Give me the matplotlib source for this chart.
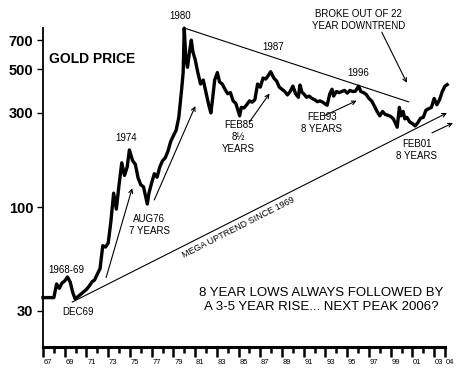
import matplotlib
matplotlib.use("Agg")
import matplotlib.pyplot as plt
from matplotlib.ticker import NullLocator
from matplotlib.transforms import ScaledTranslation

plt.rcParams['font.family'] = ['Liberation Sans', 'DejaVu Sans']

# gold price (decimal year, US$/oz)
years = [1967.0, 1967.25, 1967.5, 1967.75,
         1968.0, 1968.25, 1968.5, 1968.75,
         1969.0, 1969.25, 1969.5, 1969.75, 1969.95,
         1970.25, 1970.5, 1970.75,
         1971.0, 1971.25, 1971.5, 1971.75,
         1972.0, 1972.25, 1972.5, 1972.75,
         1973.0, 1973.25, 1973.5, 1973.75,
         1974.0, 1974.25, 1974.5, 1974.75, 1974.95,
         1975.25, 1975.5, 1975.75,
         1976.0, 1976.25, 1976.6, 1976.75,
         1977.0, 1977.25, 1977.5, 1977.75,
         1978.0, 1978.25, 1978.5, 1978.75,
         1979.0, 1979.25, 1979.5, 1979.75, 1979.9,
         1980.0, 1980.15, 1980.3, 1980.5, 1980.65, 1980.8,
         1981.0, 1981.25, 1981.5, 1981.75,
         1982.0, 1982.25, 1982.45, 1982.6, 1982.8,
         1983.05, 1983.25, 1983.5, 1983.75,
         1984.0, 1984.25, 1984.5, 1984.75,
         1985.1, 1985.25, 1985.5, 1985.75,
         1986.0, 1986.25, 1986.5, 1986.75,
         1987.0, 1987.25, 1987.5, 1987.75, 1987.95,
         1988.25, 1988.5, 1988.75,
         1989.0, 1989.25, 1989.5, 1989.75,
         1990.0, 1990.25, 1990.5, 1990.65, 1990.85,
         1991.0, 1991.25, 1991.5, 1991.75,
         1992.0, 1992.25, 1992.5, 1992.75,
         1993.0, 1993.15, 1993.4, 1993.6, 1993.75,
         1994.0, 1994.25, 1994.5, 1994.75,
         1995.0, 1995.25, 1995.5, 1995.75,
         1996.05, 1996.25, 1996.5, 1996.75,
         1997.0, 1997.25, 1997.5, 1997.75,
         1998.0, 1998.25, 1998.5, 1998.75,
         1999.0, 1999.25, 1999.6, 1999.8, 1999.95,
         2000.15, 2000.3, 2000.5, 2000.75,
         2001.0, 2001.25, 2001.5, 2001.75,
         2002.0, 2002.25, 2002.5, 2002.75,
         2003.0, 2003.25, 2003.5, 2003.75,
         2004.0, 2004.2]
prices = [35, 35, 35, 35,
          35, 41, 39, 41.5,
          42.5, 44.5, 42, 37, 34.5,
          35.5, 36.5, 37.5,
          38.5, 40, 42, 43,
          46, 49, 64, 63,
          66, 85, 118, 98,
          130, 168, 145, 160, 195,
          172, 165, 141,
          130, 127, 104, 118,
          133, 148, 142, 160,
          172, 178, 192, 215,
          230, 245, 285, 390, 480,
          805, 560, 510, 620, 700, 610,
          560, 480, 420, 440,
          380, 330, 300, 350, 440,
          480, 430, 420, 395,
          375, 380, 345, 335,
          290, 320, 318, 330,
          345, 340, 350, 420,
          405, 450, 445, 465, 485,
          450, 435, 405,
          395, 385, 370, 385,
          410, 375, 360, 415, 380,
          375, 360, 365, 355,
          350, 342, 345, 340,
          332, 328, 375, 395, 365,
          385, 380, 385, 390,
          378, 390, 385, 386,
          410, 385, 380, 372,
          355, 345, 325, 305,
          290, 305, 295, 292,
          288, 280, 254, 320, 290,
          305, 280, 285, 270,
          265, 258, 268, 282,
          285, 310, 315, 320,
          355, 330, 350, 385,
          410, 417]

y_ticks = [30, 100, 300, 500, 700]
major_years = list(range(1967, 2004, 2)) + [2004]
minor_years = list(range(1968, 2003, 2))

# trend lines / arrows: ((x0, y0), (x1, y1), arrowhead)
trend_lines = [
    ((1980.0, 806), (2000.67, 341), False),   # 22 year downtrend
    ((1969.68, 33.2), (2004.18, 300), True),  # mega uptrend
    ((1972.81, 44.2), (1975.21, 125), True),
    ((1977.24, 109), (1981.02, 325), True),
    ((1986.0, 270), (1987.85, 376), True),
    ((1992.92, 291), (1995.87, 346), True),
    ((1998.18, 768), (2000.49, 426), True),
    ((2002.8, 238), (2004.73, 267), True),
]

# labels: (text, x, y)
labels = [
    ("1980", 1979.6, 927),
    ("1987", 1988.2, 646),
    ("BROKE OUT OF 22\nYEAR DOWNTREND", 1996.06, 884),
    ("1996", 1996.0, 477),
    ("1974", 1974.66, 224),
    ("FEB85\n8½\nYEARS", 1985.0, 227),
    ("FEB93\n8 YEARS", 1992.65, 267),
    ("FEB01\n8 YEARS", 2001.4, 195),
    ("AUG76\n7 YEARS", 1976.8, 81.6),
    ("1968-69", 1969.1, 48.3),
    ("DEC69", 1970.2, 29.6),
]

fig = plt.figure(figsize=(4.64, 3.70), dpi=100)
ax = fig.add_axes([43/464, 23/370, 402/464, 319/370])

ax.plot(years, prices, color='black', linewidth=2.4, clip_on=False)

ax.set_yscale('log')
ax.set_ylim(19.7, 806)
ax.set_xlim(1967, 2004)

ax.set_yticks(y_ticks)
ax.set_yticklabels([str(v) for v in y_ticks], fontsize=10.5, fontweight='bold')
ax.yaxis.set_minor_locator(NullLocator())
ax.tick_params(axis='y', direction='out', length=4, width=1, pad=3)

ax.set_xticks(major_years)
ax.set_xticklabels(['%02d' % (y % 100) for y in major_years], fontsize=5.5)
ax.set_xticks(minor_years, minor=True)
ax.tick_params(axis='x', which='major', direction='out', length=7, width=1.8, pad=2)
ax.tick_params(axis='x', which='minor', direction='out', length=4, width=1.8)
shift = ScaledTranslation(5/100, 0, fig.dpi_scale_trans)
for lab in ax.get_xticklabels():
    lab.set_transform(lab.get_transform() + shift)

ax.spines['top'].set_visible(False)
ax.spines['right'].set_visible(False)
ax.spines['left'].set_linewidth(1.3)
ax.spines['bottom'].set_linewidth(2.2)

for (x0, y0), (x1, y1), head in trend_lines:
    ax.annotate('', xy=(x1, y1), xytext=(x0, y0),
                arrowprops=dict(arrowstyle='->' if head else '-', color='black',
                                lw=0.8, shrinkA=0, shrinkB=0,
                                mutation_scale=7),
                annotation_clip=False)

for txt, x, y in labels:
    ax.text(x, y, txt, fontsize=7, ha='center', va='center',
            linespacing=1.25, clip_on=False)

ax.text(1967.55, 564, "GOLD PRICE", fontsize=10, fontweight='bold',
        ha='left', va='center')
ax.text(1985.0, 79.6, "MEGA UPTREND SINCE 1969", fontsize=6.5,
        ha='center', va='center', rotation=27)
ax.text(1992.65, 34.0, "8 YEAR LOWS ALWAYS FOLLOWED BY\nA 3-5 YEAR RISE... NEXT PEAK 2006?",
        fontsize=9.5, ha='center', va='center', linespacing=1.15)

fig.savefig('out.png', dpi=100)
